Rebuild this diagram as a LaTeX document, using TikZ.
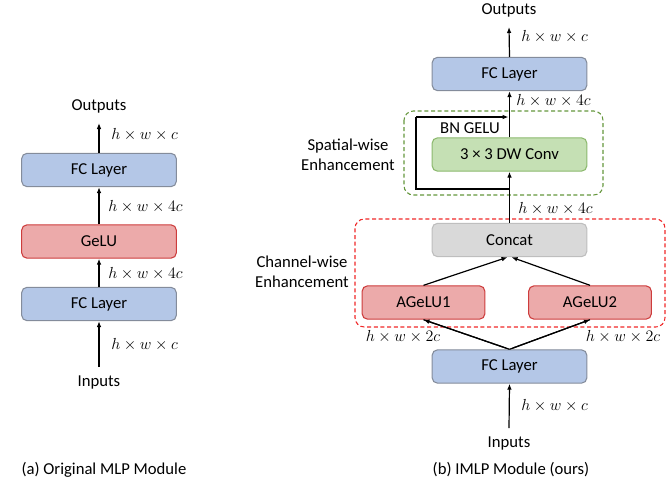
\documentclass[tikz,border=0pt]{standalone}
\usepackage{amsmath,amssymb}
\usepackage{fontspec}
\setmainfont{Carlito}
\usepackage{tikz}
\usetikzlibrary{positioning,calc}
\usetikzlibrary{arrows.meta}
\definecolor{FcBlue}{RGB}{180,199,231}
\definecolor{FcEdge}{RGB}{132,140,155}
\definecolor{ActRed}{RGB}{236,170,170}
\definecolor{ActEdge}{RGB}{205,60,60}
\definecolor{ConvGreen}{RGB}{197,224,180}
\definecolor{ConvEdge}{RGB}{140,185,110}
\definecolor{CatGray}{RGB}{217,217,217}
\definecolor{CatEdge}{RGB}{190,190,190}
\definecolor{GroupGreen}{RGB}{100,150,60}
\definecolor{GroupRed}{RGB}{240,40,40}
\tikzset{
  blk/.style={rounded corners=4pt,line width=0.8pt,minimum width=116pt,minimum height=25pt,inner sep=0pt},
  fc/.style={blk,draw=FcEdge,fill=FcBlue},
  act/.style={blk,draw=ActEdge,fill=ActRed},
  conv/.style={blk,draw=ConvEdge,fill=ConvGreen},
  cat/.style={blk,draw=CatEdge,fill=CatGray},
  flow/.style={line width=0.9pt,-{Latex[length=4.5pt,width=3.5pt]}},
  dim/.style={anchor=west,inner sep=0pt},
}
\tikzset{group/.style={dash pattern=on 3pt off 2pt,line width=0.8pt,rounded corners=7pt}, tag/.style={align=center,inner sep=0pt}}

\begin{document}
\begin{tikzpicture}[x=0.75pt,y=-0.75pt,font=\fontsize{12.5pt}{15pt}\selectfont]
\useasboundingbox (0,0) rectangle (666,483);
% (a) original MLP
\node[tag] (outA) at (99,106) {Outputs};
\node[fc] (fcA2) at (99,170) {FC Layer};
\node[act] (gelu) at (99,241.5) {GeLU};
\node[fc] (fcA1) at (99,304) {FC Layer};
\node[tag] (inA) at (99,382) {Inputs};
\coordinate (tipA) at (99,123);
\coordinate (tailA) at (99,367);
\draw[flow] (fcA2.north) -- (tipA);
\draw[flow] (gelu.north) -- (fcA2.south);
\draw[flow] (fcA1.north) -- (gelu.south);
\draw[flow] (tailA) -- (fcA1.south);
\node[dim] (dA4) at (111,135) {$h\times w\times c$};
\node[dim] (dA3) at (108,207) {$h\times w\times 4c$};
\node[dim] (dA2) at (108,274) {$h\times w\times 4c$};
\node[dim] (dA1) at (111,345) {$h\times w\times c$};
\node[tag] (capA) at (104,470) {(a) Original MLP Module};
% (b) IMLP
\draw[group,draw=GroupGreen] (404,111) rectangle (603,195);
\draw[group,draw=GroupRed] (355,219) rectangle (665,327);
\node[tag] (outB) at (509,10) {Outputs};
\node[fc] (fcB2) at (509.5,74) {FC Layer};
\node[conv] (dw) at (509.5,154.5) {3 × 3 DW Conv};
\node[cat] (concat) at (509.5,240) {Concat};
\node[act,minimum width=92pt] (ag1) at (423.5,302.5) {AGeLU1};
\node[act,minimum width=92pt] (ag2) at (590,302.5) {AGeLU2};
\node[fc] (fcB1) at (509.5,366.5) {FC Layer};
\node[tag] (inB) at (509,443) {Inputs};
\coordinate (tipB) at (509,27);
\coordinate (tailB) at (509,428);
\coordinate (skipS) at (509,189);
\coordinate (skipA) at (416,189);
\coordinate (skipB) at (416,117);
\coordinate (skipE) at (508.5,117);
\draw[flow] (fcB2.north) -- (tipB);
\draw[flow] (dw.north) -- (fcB2.south);
\draw[flow] (concat.north) -- (dw.south);
\draw[line width=0.9pt] (skipS) -- (skipA) -- (skipB);
\draw[flow] (skipB) -- (skipE);
\draw[flow] (ag1.north) -- ($(concat.south)+(-2,0)$);
\draw[flow] (ag2.north) -- ($(concat.south)+(2,0)$);
\draw[line width=0.9pt] (fcB1.north) -- (ag1.south);
\draw[flow] ($(ag1.south)!0.96!(fcB1.north)$) -- (ag1.south);
\draw[line width=0.9pt] (fcB1.north) -- (ag2.south);
\draw[flow] ($(ag2.south)!0.96!(fcB1.north)$) -- (ag2.south);
\draw[flow] (tailB) -- (fcB1.south);
\node[tag] (bngelu) at (470,128) {BN GELU};
\node[dim] (dB4) at (521,37) {$h\times w\times c$};
\node[dim] (dB3) at (516,101) {$h\times w\times 4c$};
\node[dim] (dB2) at (518,209) {$h\times w\times 4c$};
\node[tag] (dBl) at (403,337) {$h\times w\times 2c$};
\node[tag] (dBr) at (623,337) {$h\times w\times 2c$};
\node[dim] (dB1) at (521,406) {$h\times w\times c$};
\node[tag] (spat) at (348,155) {Spatial-wise\\Enhancement};
\node[tag] (chan) at (302,272) {Channel-wise\\Enhancement};
\node[tag] (capB) at (511,470) {(b) IMLP Module (ours)};
\end{tikzpicture}
\end{document}
